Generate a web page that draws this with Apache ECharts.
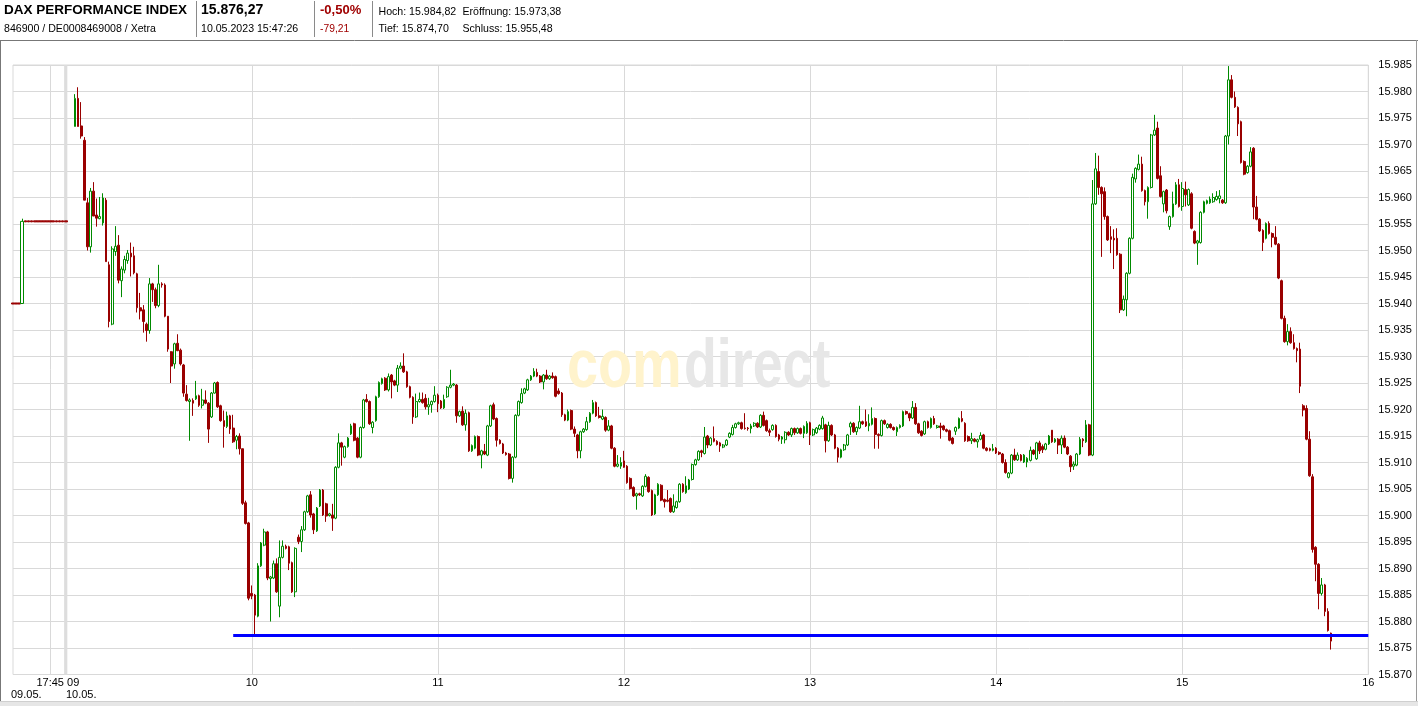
<!DOCTYPE html>
<html><head><meta charset="utf-8">
<script src="https://cdn.jsdelivr.net/npm/echarts@6/dist/echarts.min.js"></script>
<style>html,body{margin:0;padding:0;background:#fff;}#c{width:1418px;height:706px;}</style>
</head><body><div id="c"></div>
<script>
// ---------- data ----------
const prevDayTimes = ['17:33','17:34','17:35','17:36','17:37','17:38','17:39','17:40','17:41','17:42','17:43','17:44','17:45','17:46','17:47','17:48','17:49'];
// [open, close, low, high]
const prevDayCandles = [
[15940.1,15939.9,15939.9,15940.1],[15940.1,15939.9,15939.9,15940.1],[15940.1,15939.9,15939.9,15940.1],
[15940.0,15955.5,15940.0,15956.0],
[15955.6,15955.4,15955.4,15955.6],[15955.6,15955.4,15955.4,15955.6],[15955.6,15955.4,15955.4,15955.6],
[15955.6,15955.4,15955.4,15955.6],[15955.6,15955.4,15955.4,15955.6],[15955.6,15955.4,15955.4,15955.6],
[15955.6,15955.4,15955.4,15955.6],[15955.6,15955.4,15955.4,15955.6],[15955.6,15955.4,15955.4,15955.6],
[15955.6,15955.4,15955.4,15955.6],[15955.6,15955.4,15955.4,15955.6],[15955.6,15955.4,15955.4,15955.6],
[15955.6,15955.4,15955.4,15955.6]
];
const daySessionStart = '09:00';
const daySessionEnd = '16:00';
const carryTime = '09:00';
const carryCandle = [15955.6,15955.4,15955.4,15955.6];
const dayFirstCandle = '09:03';
// one candle per minute from 09:03, [open, close, low, high]
const dayCandles = [
[15973.4,15978.7,15973.4,15979.5],[15978.7,15973.4,15973.4,15980.8],[15973.5,15971.6,15971.1,15978.0],[15970.8,15959.5,15959.5,15971.4],[15959.0,15950.7,15950.0,15959.9],
[15950.7,15961.2,15949.6,15961.8],[15961.2,15956.5,15956.5,15962.9],[15956.7,15956.1,15954.5,15959.8],[15956.0,15956.4,15955.9,15960.1],[15955.2,15959.9,15954.7,15960.8],
[15959.5,15947.9,15947.9,15959.9],[15947.3,15936.6,15935.5,15947.9],[15936.1,15950.3,15935.9,15950.8],[15949.8,15950.8,15949.0,15954.6],[15951.0,15944.4,15943.8,15952.9],
[15944.3,15946.5,15941.2,15947.0],[15946.3,15948.3,15945.7,15949.0],[15948.1,15949.5,15947.5,15950.1],[15949.5,15948.8,15945.1,15951.5],[15949.0,15945.8,15945.5,15950.7],
[15945.6,15939.2,15938.3,15945.8],[15939.2,15938.6,15937.0,15942.0],[15938.8,15936.6,15934.5,15939.7],[15936.1,15934.9,15932.8,15936.4],[15934.9,15943.7,15934.3,15944.8],
[15943.7,15942.6,15940.3,15943.9],[15942.6,15939.6,15939.1,15943.0],[15939.6,15943.7,15939.3,15947.3],[15943.7,15943.5,15943.0,15944.0],[15943.5,15937.6,15937.4,15943.8],
[15937.6,15931.4,15930.9,15937.6],[15930.9,15928.2,15925.0,15931.0],[15928.6,15932.4,15927.7,15932.6],[15932.5,15931.1,15931.0,15934.2],[15931.2,15928.6,15928.3,15931.5],
[15928.4,15923.1,15922.4,15928.6],[15922.9,15921.7,15921.5,15924.6],[15921.5,15921.8,15914.1,15922.1],[15921.7,15921.2,15918.8,15922.1],[15922.0,15922.6,15921.8,15925.4],
[15922.6,15920.8,15920.5,15922.8],[15920.8,15921.8,15920.2,15923.9],[15921.8,15921.2,15921.0,15923.6],[15921.2,15916.3,15913.7,15921.4],[15918.6,15923.1,15918.4,15923.3],
[15923.1,15925.0,15923.0,15925.2],[15925.1,15920.5,15920.3,15925.3],[15920.7,15917.9,15917.7,15920.9],[15917.9,15916.8,15912.8,15919.8],[15916.8,15918.8,15916.5,15919.6],
[15918.8,15916.3,15915.4,15919.0],[15916.5,15913.9,15913.7,15919.0],[15914.2,15914.9,15912.5,15915.2],[15915.0,15912.6,15911.5,15915.5],[15912.6,15902.3,15902.0,15912.6],
[15902.4,15898.5,15898.3,15902.8],[15898.6,15884.4,15884.0,15898.8],[15885.3,15884.8,15884.2,15886.8],[15885.0,15881.2,15877.5,15885.2],[15881.0,15890.5,15880.8,15891.0],
[15890.5,15894.8,15890.3,15895.0],[15894.4,15896.9,15894.2,15897.5],[15896.9,15888.2,15887.8,15897.1],[15888.1,15888.4,15880.0,15888.6],[15888.2,15890.9,15888.0,15891.5],
[15890.9,15885.6,15885.4,15891.9],[15882.9,15892.1,15880.8,15895.3],[15892.1,15894.2,15891.9,15895.3],[15894.2,15893.8,15893.6,15894.5],[15894.1,15891.0,15889.7,15894.3],
[15891.1,15885.6,15885.4,15891.3],[15885.6,15893.8,15884.6,15894.0],[15895.9,15895.1,15894.6,15896.4],[15895.1,15897.3,15893.1,15898.0],[15897.3,15900.7,15897.1,15900.9],
[15900.7,15903.7,15900.5,15903.9],[15903.9,15900.1,15899.6,15904.6],[15900.3,15897.3,15896.5,15900.5],[15897.1,15901.4,15896.9,15901.6],[15901.8,15904.8,15901.6,15905.0],
[15904.8,15900.1,15899.9,15905.0],[15902.2,15899.9,15898.8,15902.4],[15900.0,15900.3,15899.8,15900.5],[15900.1,15899.5,15897.1,15902.2],[15899.5,15909.1,15899.3,15909.3],
[15909.1,15913.7,15908.9,15915.5],[15913.7,15912.9,15909.4,15913.9],[15911.0,15913.0,15910.8,15913.2],[15913.0,15914.6,15912.8,15914.8],[15915.4,15916.9,15915.2,15917.3],
[15917.3,15914.2,15914.0,15917.5],[15914.6,15911.0,15910.8,15914.8],[15911.0,15916.6,15910.8,15916.8],[15916.6,15921.8,15916.4,15922.0],[15921.9,15921.5,15921.3,15922.9],
[15921.5,15917.3,15917.1,15921.7],[15916.6,15917.6,15915.5,15917.8],[15917.9,15922.4,15917.7,15922.6],[15922.4,15925.1,15922.2,15925.3],[15924.9,15925.8,15924.7,15926.0],
[15925.9,15923.7,15923.5,15926.1],[15923.7,15926.2,15923.4,15926.8],[15926.5,15925.2,15922.1,15926.7],[15925.4,15924.6,15924.4,15925.6],[15924.6,15927.8,15923.3,15928.4],
[15927.8,15928.2,15927.6,15928.9],[15928.2,15927.1,15926.9,15930.6],[15927.1,15924.3,15924.1,15927.3],[15924.3,15922.3,15922.1,15924.5],[15922.3,15918.6,15917.3,15922.5],
[15918.6,15921.5,15918.4,15923.0],[15921.5,15921.9,15921.3,15923.2],[15921.9,15921.3,15921.1,15923.2],[15922.1,15920.5,15920.0,15922.9],[15920.5,15920.9,15919.0,15922.2],
[15920.9,15921.5,15919.4,15921.7],[15921.5,15922.7,15921.3,15924.4],[15922.7,15921.1,15919.5,15923.0],[15921.6,15920.3,15920.1,15921.8],[15920.3,15921.9,15920.1,15922.8],
[15922.4,15924.2,15922.2,15924.4],[15924.2,15924.6,15924.0,15927.5],[15924.6,15924.8,15924.4,15925.0],[15924.6,15918.8,15917.5,15924.8],[15918.8,15919.6,15918.6,15919.8],
[15919.7,15917.1,15916.9,15920.6],[15917.1,15919.3,15916.0,15920.0],[15919.4,15912.2,15912.0,15919.6],[15912.2,15913.2,15912.0,15913.4],[15912.7,15914.9,15912.5,15915.1],
[15914.9,15911.4,15911.2,15915.1],[15911.4,15912.2,15908.9,15912.4],[15912.1,15911.6,15911.4,15913.5],[15911.4,15916.9,15911.2,15917.1],[15916.9,15920.7,15916.7,15920.9],
[15920.9,15918.2,15918.0,15921.3],[15918.3,15914.2,15913.0,15918.5],[15914.2,15913.6,15913.4,15914.4],[15913.5,15911.8,15911.6,15913.7],[15911.8,15911.5,15911.3,15912.0],
[15911.6,15907.0,15906.8,15911.8],[15907.0,15911.0,15906.2,15911.2],[15911.0,15918.9,15910.8,15919.1],[15918.9,15921.5,15918.7,15921.7],[15921.3,15923.0,15921.1,15924.0],
[15923.1,15923.9,15922.9,15924.1],[15923.7,15925.6,15923.5,15925.8],[15925.6,15926.3,15925.4,15926.5],[15926.3,15927.2,15926.1,15927.8],[15927.0,15926.3,15926.1,15927.7],
[15926.3,15925.2,15925.0,15926.5],[15925.2,15926.5,15923.8,15926.7],[15926.5,15925.8,15925.6,15927.5],[15925.8,15926.3,15925.6,15926.5],[15926.3,15926.0,15925.8,15927.0],
[15926.2,15922.5,15922.3,15926.4],[15923.5,15923.0,15922.8,15924.0],[15923.1,15919.0,15918.6,15923.3],[15919.0,15918.0,15917.8,15919.2],[15918.0,15919.6,15917.8,15920.0],
[15919.8,15916.3,15916.1,15920.0],[15916.3,15915.5,15914.8,15916.8],[15915.2,15912.2,15910.8,15915.4],[15912.2,15915.8,15910.8,15916.0],[15915.8,15916.3,15915.6,15916.5],
[15916.2,15917.7,15916.0,15918.6],[15917.7,15919.3,15917.5,15919.5],[15919.3,15921.3,15919.1,15921.8],[15921.3,15918.8,15918.6,15921.5],[15918.8,15918.5,15918.3,15920.5],
[15918.2,15918.7,15918.0,15920.0],[15918.5,15916.1,15915.8,15918.7],[15916.1,15916.9,15915.9,15918.0],[15916.9,15912.7,15912.5,15917.1],[15912.7,15909.3,15909.1,15912.9],
[15909.3,15909.7,15909.1,15911.4],[15909.3,15910.0,15908.8,15911.0],[15910.3,15909.1,15909.0,15912.2],[15909.3,15906.2,15906.0,15909.5],[15907.0,15905.1,15904.9,15907.2],
[15905.3,15903.7,15903.5,15905.5],[15903.7,15904.1,15901.1,15904.3],[15904.1,15903.9,15903.7,15904.3],[15903.7,15905.5,15903.5,15905.7],[15905.5,15907.4,15905.3,15907.8],
[15907.2,15904.5,15904.3,15907.4],[15904.7,15900.1,15899.9,15904.9],[15900.3,15903.9,15900.1,15904.1],[15903.9,15905.9,15903.7,15906.1],[15905.7,15902.9,15902.7,15905.9],
[15903.0,15902.6,15901.5,15903.2],[15902.9,15902.7,15902.5,15904.8],[15903.2,15900.7,15900.5,15903.4],[15900.7,15901.8,15900.5,15904.0],[15901.5,15902.6,15901.3,15902.8],
[15902.6,15905.9,15902.4,15906.1],[15905.9,15904.5,15904.3,15906.1],[15904.3,15905.6,15904.1,15907.4],[15905.0,15906.7,15904.8,15906.9],[15906.8,15909.6,15906.6,15909.8],
[15909.6,15910.5,15909.4,15910.7],[15910.5,15912.1,15910.3,15912.3],[15912.2,15911.9,15911.0,15912.4],[15911.7,15914.8,15911.5,15916.7],[15915.0,15913.3,15912.7,15915.2],
[15913.3,15914.6,15913.1,15914.8],[15914.5,15914.0,15913.8,15916.8],[15914.0,15913.4,15913.2,15914.2],[15913.7,15913.1,15912.0,15913.9],[15912.9,15913.3,15912.7,15913.5],
[15913.3,15914.2,15913.1,15914.4],[15914.8,15915.5,15914.6,15915.7],[15915.3,15916.6,15915.1,15917.1],[15916.6,15917.3,15916.4,15917.5],[15917.3,15917.5,15917.1,15917.7],
[15917.5,15916.4,15916.2,15917.7],[15916.5,15916.4,15916.2,15919.3],[15916.5,15916.4,15916.0,15916.7],[15916.4,15916.9,15915.5,15917.3],[15916.9,15917.4,15916.7,15917.6],
[15917.4,15916.7,15916.5,15917.6],[15916.7,15918.9,15916.5,15919.1],[15918.9,15917.0,15916.8,15919.6],[15917.9,15916.0,15915.8,15918.1],[15916.0,15915.7,15915.0,15916.4],
[15916.2,15917.0,15916.0,15917.2],[15917.0,15914.9,15914.7,15917.2],[15915.2,15914.4,15914.0,15915.4],[15914.4,15914.8,15913.5,15915.0],[15914.3,15915.7,15913.6,15915.9],
[15915.7,15915.2,15915.0,15915.9],[15915.2,15916.4,15914.8,15916.6],[15916.4,15915.6,15915.2,15916.6],[15915.6,15916.4,15915.4,15916.6],[15916.4,15915.5,15915.3,15916.6],
[15915.5,15916.8,15914.6,15917.0],[15915.6,15917.4,15915.4,15917.8],[15917.5,15915.2,15913.3,15917.7],[15915.2,15916.2,15915.0,15916.4],[15915.6,15916.5,15915.4,15916.7],
[15916.3,15917.0,15916.1,15917.2],[15916.4,15918.4,15916.2,15918.8],[15917.1,15914.1,15911.9,15917.3],[15914.1,15917.0,15913.9,15917.7],[15917.0,15915.2,15915.0,15917.2],
[15915.2,15912.7,15912.5,15915.4],[15912.7,15911.0,15910.0,15912.9],[15911.0,15912.4,15910.8,15912.6],[15912.4,15913.3,15912.2,15913.5],[15913.3,15915.2,15913.1,15915.4],
[15916.7,15917.4,15915.2,15917.7],[15917.4,15915.8,15915.6,15917.6],[15915.8,15916.6,15915.2,15916.8],[15916.5,15917.7,15916.3,15920.7],[15917.7,15917.3,15917.1,15917.9],
[15917.7,15916.9,15916.7,15920.0],[15916.9,15917.4,15915.9,15919.1],[15917.2,15918.3,15917.0,15920.4],[15918.3,15915.3,15912.6,15918.5],[15915.3,15915.1,15912.6,15915.5],
[15915.1,15917.9,15914.9,15918.1],[15917.9,15917.3,15917.1,15918.1],[15916.6,15917.2,15916.4,15917.4],[15917.2,15916.6,15916.4,15917.4],[15916.6,15916.2,15916.0,15916.8],
[15915.8,15916.6,15915.0,15916.8],[15916.6,15917.0,15916.4,15917.2],[15916.9,15919.6,15916.7,15919.8],[15919.6,15919.2,15919.0,15919.8],[15919.2,15918.4,15917.8,15919.4],
[15918.4,15920.4,15918.2,15921.6],[15920.4,15917.3,15917.1,15921.2],[15917.3,15915.6,15915.4,15917.5],[15915.9,15915.1,15914.9,15916.1],[15915.4,15917.7,15915.2,15917.9],
[15917.7,15916.6,15916.4,15917.9],[15916.6,15918.3,15916.4,15918.5],[15918.3,15917.3,15917.1,15918.8],[15916.6,15916.9,15916.4,15917.1],[15916.9,15916.6,15914.5,15917.5],
[15916.9,15916.2,15916.0,15917.1],[15916.2,15915.9,15915.7,15916.4],[15916.0,15914.2,15914.0,15916.2],[15914.6,15913.6,15913.4,15914.8],[15915.9,15916.6,15915.2,15916.8],
[15916.5,15918.3,15916.3,15918.5],[15918.3,15917.8,15917.6,15919.7],[15917.4,15914.1,15913.9,15917.6],[15914.9,15914.1,15913.9,15915.1],[15914.1,15914.5,15913.5,15915.6],
[15914.4,15914.0,15913.8,15914.6],[15913.9,15914.3,15912.8,15914.5],[15914.4,15915.1,15914.2,15915.7],[15915.2,15912.7,15912.5,15915.4],[15912.7,15912.3,15912.1,15912.9],
[15912.6,15912.3,15912.1,15912.8],[15912.3,15912.6,15912.1,15913.5],[15912.7,15911.8,15911.6,15912.9],[15911.9,15911.6,15911.4,15912.1],[15911.6,15910.0,15909.8,15911.8],
[15910.0,15908.1,15907.9,15910.6],[15907.2,15908.0,15907.0,15908.2],[15908.0,15911.4,15907.8,15911.6],[15911.4,15910.5,15910.3,15912.6],[15910.5,15911.4,15910.3,15911.9],
[15911.4,15910.4,15910.2,15911.6],[15910.1,15911.4,15909.9,15911.6],[15910.1,15910.8,15909.1,15911.0],[15910.4,15912.3,15910.2,15913.0],[15912.3,15911.6,15911.4,15912.5],
[15910.7,15913.7,15910.5,15913.9],[15913.7,15912.2,15911.6,15914.1],[15913.0,15912.4,15911.8,15913.4],[15912.5,15913.5,15912.3,15913.7],[15913.5,15915.0,15913.3,15915.2],
[15916.1,15913.9,15913.7,15916.1],[15913.9,15914.4,15913.7,15914.6],[15914.4,15913.3,15911.6,15914.6],[15913.3,15914.6,15911.6,15915.1],[15914.6,15912.9,15912.7,15915.1],
[15912.9,15911.6,15911.4,15913.1],[15911.2,15909.2,15908.2,15911.4],[15909.3,15909.7,15908.6,15910.2],[15909.5,15911.6,15909.3,15911.8],[15911.6,15914.4,15911.4,15914.8],
[15914.4,15914.1,15912.9,15914.6],[15913.9,15917.1,15913.7,15918.0],[15917.1,15911.4,15911.2,15917.3],[15911.4,15958.8,15911.2,15963.3],[15958.8,15965.4,15958.6,15968.4],
[15964.9,15961.9,15960.5,15967.9],[15961.9,15960.7,15948.8,15962.1],[15961.1,15956.4,15955.8,15961.9],[15956.4,15952.0,15951.8,15956.6],[15952.6,15952.1,15949.5,15954.6],
[15952.3,15952.0,15946.5,15954.0],[15952.3,15949.2,15949.0,15954.2],[15949.3,15938.8,15938.2,15949.5],[15938.8,15940.8,15938.6,15941.5],[15940.7,15945.7,15937.6,15945.9],
[15945.7,15952.3,15945.5,15952.5],[15952.3,15963.8,15952.1,15964.5],[15963.5,15965.5,15962.8,15965.7],[15965.3,15966.3,15965.1,15968.1],[15966.3,15961.3,15961.1,15967.7],
[15961.3,15959.2,15958.5,15961.5],[15959.2,15961.9,15956.0,15962.1],[15961.9,15971.8,15961.7,15972.0],[15971.8,15972.7,15971.6,15975.6],[15973.1,15963.6,15963.4,15974.3],
[15964.1,15960.2,15960.0,15965.9],[15958.8,15961.1,15957.2,15961.3],[15961.4,15957.5,15957.0,15961.6],[15954.5,15956.4,15953.9,15956.6],[15956.4,15958.8,15956.2,15961.1],
[15958.8,15962.4,15958.6,15962.9],[15962.4,15958.3,15958.1,15963.5],[15958.3,15961.7,15957.5,15962.9],[15961.5,15960.5,15958.3,15963.0],[15958.6,15961.5,15958.4,15961.7],
[15960.7,15954.2,15954.0,15961.0],[15953.6,15951.4,15951.2,15953.8],[15951.4,15951.8,15947.3,15952.0],[15951.5,15957.2,15951.3,15957.4],[15957.2,15959.2,15957.0,15959.4],
[15958.9,15959.4,15958.7,15959.6],[15959.0,15959.7,15958.8,15960.2],[15959.2,15960.0,15959.0,15960.8],[15959.6,15960.2,15959.4,15961.2],[15959.8,15960.3,15958.9,15961.4],
[15959.5,15959.0,15958.8,15959.7],[15959.0,15971.6,15958.8,15971.8],[15971.6,15982.2,15970.0,15984.8],[15982.2,15978.9,15978.7,15983.1],[15978.9,15977.1,15976.9,15980.0],
[15977.0,15973.9,15971.6,15977.2],[15974.3,15966.6,15966.4,15974.5],[15966.8,15964.4,15964.2,15967.0],[15964.7,15965.9,15964.5,15966.1],[15965.9,15968.6,15965.7,15969.5],
[15969.3,15958.2,15955.9,15969.5],[15958.2,15955.9,15955.7,15960.3],[15955.9,15953.7,15953.5,15956.1],[15953.8,15951.5,15949.9,15954.0],[15952.3,15955.1,15952.1,15955.3],
[15955.1,15953.2,15953.0,15955.5],[15953.2,15952.5,15950.6,15953.4],[15952.5,15951.2,15951.0,15954.6],[15951.2,15944.8,15944.6,15951.4],[15944.3,15937.2,15937.0,15944.5],
[15937.2,15932.8,15932.6,15937.7],[15932.8,15934.7,15932.1,15936.1],[15934.7,15932.6,15932.4,15935.5],[15932.6,15931.5,15931.3,15934.2],[15931.5,15931.1,15928.9,15931.7],
[15931.4,15924.4,15923.1,15932.6],[15920.7,15919.9,15918.7,15921.0],[15920.2,15914.4,15914.2,15920.8],[15914.4,15907.5,15907.3,15915.9],[15907.3,15893.6,15893.0,15907.8],
[15894.0,15890.8,15887.6,15894.2],[15890.8,15885.3,15882.3,15891.0],[15885.3,15886.9,15884.9,15888.2],[15886.9,15881.9,15881.0,15887.1],[15881.9,15878.3,15878.1,15882.5],
[15877.8,15876.3,15874.7,15877.9]
];
const yMin = 15870, yMax = 15985, yStep = 5;
const hourTickLabels = ['10','11','12','13','14','15','16'];
const prevDayTickLabel = '17:45';
const supportLevel = 15877.4;
const supportFrom = '09:54';
const header = {
  name: 'DAX PERFORMANCE INDEX', ids: '846900 / DE0008469008 / Xetra',
  last: '15.876,27', time: '10.05.2023 15:47:26',
  changePct: '-0,50%', change: '-79,21',
  high: 'Hoch: 15.984,82', open: 'Eröffnung: 15.973,38',
  low: 'Tief: 15.874,70', close: 'Schluss: 15.955,48'
};
const prevDate = '09.05.', curDate = '10.05.', firstHourLabel = '09';

// ---------- build ----------
const dayTimes = [];
{
  const [sh, sm] = daySessionStart.split(':').map(Number);
  const [eh, em] = daySessionEnd.split(':').map(Number);
  for (let t = sh * 60 + sm; t <= eh * 60 + em; t++) {
    dayTimes.push(String(Math.floor(t / 60)).padStart(2, '0') + ':' + String(t % 60).padStart(2, '0'));
  }
}
const categories = prevDayTimes.concat(dayTimes);
const EMPTY = ['-', '-', '-', '-'];
const prevSeriesData = categories.map(() => EMPTY);
prevDayCandles.forEach((r, i) => { prevSeriesData[i] = r; });
prevSeriesData[categories.indexOf(carryTime)] = carryCandle;
const daySeriesData = categories.map(() => EMPTY);
const firstIdx = categories.indexOf(dayFirstCandle);
dayCandles.forEach((r, i) => { daySeriesData[firstIdx + i] = r; });
const hourCats = hourTickLabels.map(h => h + ':00');

const FONT = '"Liberation Sans", Arial, sans-serif';
const candleStyle = { color: '#ffffff', color0: '#990000', borderColor: '#008a00', borderColor0: '#990000', borderColorDoji: '#990000', borderWidth: 1 };
const chart = echarts.init(document.getElementById('c'), null, { renderer: 'canvas' });
const gridLeft = 13, gridRight = 49.7, gridTop = 65, gridBottom = 31.5;
chart.setOption({
  animation: false,
  backgroundColor: '#ffffff',
  grid: { left: gridLeft, right: gridRight, top: gridTop, bottom: gridBottom, show: true, borderColor: '#d9d9d9', borderWidth: 1, containLabel: false },
  xAxis: {
    type: 'category', data: categories, boundaryGap: false,
    axisLine: { show: false }, axisTick: { show: false },
    axisLabel: {
      show: true, margin: 3, fontSize: 11, color: '#000', fontFamily: FONT,
      interval: (i, v) => hourCats.includes(v) || v === prevDayTickLabel,
      formatter: v => (v === prevDayTickLabel ? v : v.slice(0, 2))
    },
    splitLine: {
      show: true, interval: (i, v) => hourCats.includes(v) || v === prevDayTickLabel,
      lineStyle: { color: '#d9d9d9', width: 1 }
    }
  },
  yAxis: {
    type: 'value', position: 'right', min: yMin, max: yMax, interval: yStep,
    axisLine: { show: false }, axisTick: { show: false },
    splitLine: { show: true, lineStyle: { color: '#d9d9d9', width: 1 } },
    axisLabel: { margin: 10, fontSize: 11, color: '#000', fontFamily: FONT, formatter: v => (v / 1000).toFixed(3) }
  },
  series: [{
    type: 'candlestick', data: prevSeriesData, barWidth: 3.2, clip: true, silent: true,
    itemStyle: candleStyle, z: 3
  }, {
    type: 'candlestick', data: daySeriesData, barWidth: 2.2, clip: true, silent: true,
    itemStyle: candleStyle,
    markLine: {
      silent: true, symbol: ['none', 'none'], label: { show: false },
      lineStyle: { color: '#0000ff', width: 3, type: 'solid' },
      data: [[{ coord: [supportFrom, supportLevel] }, { coord: [daySessionEnd, supportLevel] }]]
    },
    z: 3
  }]
});

const x09 = chart.convertToPixel({ xAxisIndex: 0 }, categories.indexOf(daySessionStart));
const yTop = chart.convertToPixel({ yAxisIndex: 0 }, yMax);
const yBot = chart.convertToPixel({ yAxisIndex: 0 }, yMin);

function txt(x, y, text, size, opts) {
  opts = opts || {};
  return {
    type: 'text', x: x, y: y, z: opts.z || 10, silent: true,
    scaleX: opts.scaleX || 1,
    style: {
      text: text, fill: opts.fill || '#000',
      font: (opts.bold ? 'bold ' : '') + size + 'px ' + FONT,
      align: opts.align || 'left', textAlign: opts.align || 'left',
      verticalAlign: 'middle', textVerticalAlign: 'middle'
    }
  };
}
const gray = '#8a8a8a';
const graphics = [
  // frame
  { type: 'line', silent: true, shape: { x1: 0, y1: 40.5, x2: 1418, y2: 40.5 }, style: { stroke: '#777', lineWidth: 1 } },
  { type: 'line', silent: true, shape: { x1: 0.5, y1: 40, x2: 0.5, y2: 702 }, style: { stroke: '#777', lineWidth: 1 } },
  { type: 'line', silent: true, shape: { x1: 1416.5, y1: 40, x2: 1416.5, y2: 702 }, style: { stroke: '#9a9a9a', lineWidth: 1 } },
  { type: 'rect', silent: true, shape: { x: 0, y: 701, width: 1418, height: 5 }, style: { fill: '#e6e6e6' } },
  { type: 'line', silent: true, shape: { x1: 0, y1: 701.5, x2: 1418, y2: 701.5 }, style: { stroke: '#cfcfcf', lineWidth: 1 } },
  // header dividers
  { type: 'line', silent: true, shape: { x1: 196.5, y1: 1, x2: 196.5, y2: 37 }, style: { stroke: gray, lineWidth: 1 } },
  { type: 'line', silent: true, shape: { x1: 314.5, y1: 1, x2: 314.5, y2: 37 }, style: { stroke: gray, lineWidth: 1 } },
  { type: 'line', silent: true, shape: { x1: 372.5, y1: 1, x2: 372.5, y2: 37 }, style: { stroke: gray, lineWidth: 1 } },
  // header texts
  txt(4, 10.6, header.name, 13.5, { bold: true }),
  txt(4, 28.8, header.ids, 10.6),
  txt(201, 10.4, header.last, 14, { bold: true }),
  txt(201, 28.8, header.time, 10.6),
  txt(320, 10.8, header.changePct, 13, { bold: true, fill: '#a00000' }),
  txt(320, 28.8, header.change, 10.3, { fill: '#a00000' }),
  txt(378.5, 11.6, header.high, 10.6),
  txt(462.5, 11.6, header.open, 10.6),
  txt(378.5, 28.8, header.low, 10.6),
  txt(462.5, 28.8, header.close, 10.6),
  // watermark
  txt(567, 368.5, 'com', 68, { bold: true, fill: '#fff3cc', scaleX: 0.82, z: 1 }),
  txt(684, 368.5, 'direct', 68, { bold: true, fill: '#e7e7e7', scaleX: 0.79, z: 1 }),
  // session separator band
  { type: 'rect', silent: true, z: 1, shape: { x: x09 - 1.6, y: yTop, width: 3.2, height: yBot - yTop }, style: { fill: '#dddddd' } },
  // first-session x labels
  txt(x09 + 1.3, 683, firstHourLabel, 11),
  txt(11, 695, prevDate, 11),
  txt(x09 + 0.2, 695, curDate, 11)
];
chart.setOption({ graphic: graphics });
</script>
</body></html>
